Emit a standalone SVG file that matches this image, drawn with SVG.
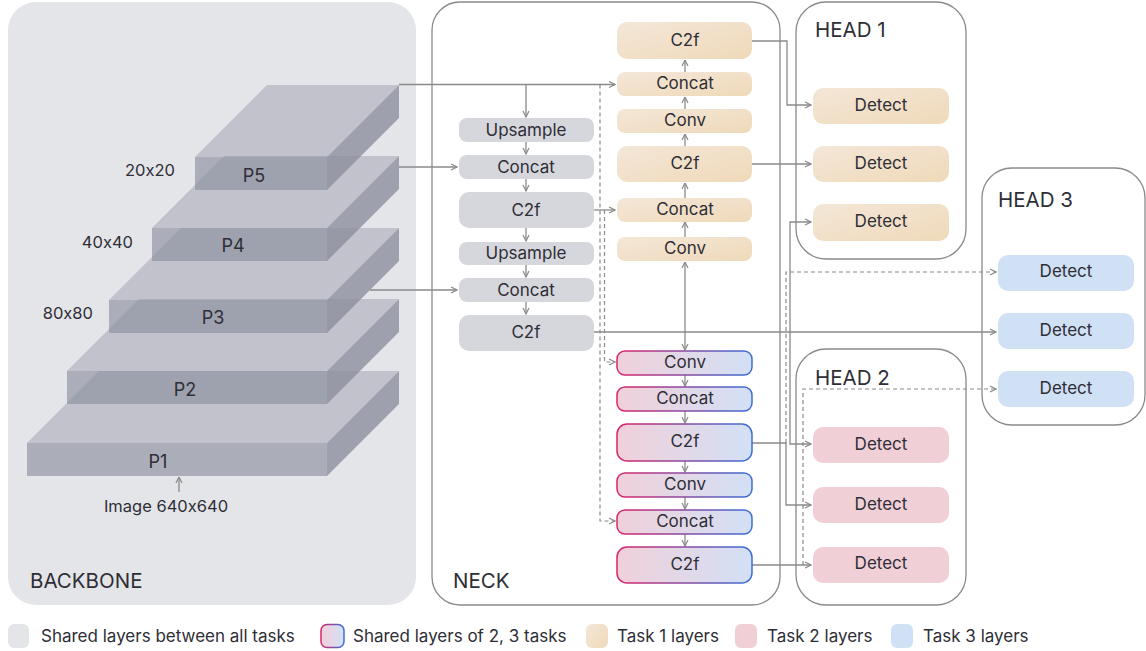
<svg xmlns="http://www.w3.org/2000/svg" width="1146" height="651" viewBox="0 0 1146 651">
<style>
text{font-family:Inter,"Noto Sans","Liberation Sans",sans-serif;fill:#2e2e36;font-feature-settings:"calt" 0;font-variant-ligatures:none}
.lbl{font-size:17px;text-anchor:middle;dominant-baseline:central}
.ttl{font-size:20.5px}
.leg{font-size:17px}
.panel{fill:#fff;stroke:#8a8a8a;stroke-width:1.3}
.gray{fill:#d6d7dc}
.t1{fill:url(#gT1)}
.t2{fill:#f0cfd7}
.t3{fill:#d0e0f5}
.sh{fill:url(#gSh);stroke:url(#gShS);stroke-width:1.5}
.c{fill:none;stroke:#8a8a8a;stroke-width:1.3}
.d{fill:none;stroke:#8a8a8a;stroke-width:1.2;stroke-dasharray:4 3}
.a{marker-end:url(#ah)}
.top{fill:#8c8f9e;fill-opacity:.4}
.front{fill:#8c8f9e;fill-opacity:.65}
.side{fill:#8c8f9e;fill-opacity:.8}
.pl{font-size:18px;text-anchor:middle;dominant-baseline:central}
.sz{font-size:16.5px;text-anchor:end;dominant-baseline:central}
</style>
<defs>
<linearGradient id="gT1" x1="0" y1="0" x2="1" y2="1"><stop offset="0" stop-color="#f4e7d8"/><stop offset="1" stop-color="#efd9b9"/></linearGradient>
<linearGradient id="gSh" x1="0" y1="0" x2="1" y2="0"><stop offset="0" stop-color="#f0d0da"/><stop offset="1" stop-color="#d3e0f5"/></linearGradient>
<linearGradient id="gShS" x1="0" y1="0" x2="1" y2="0"><stop offset="0" stop-color="#d8246c"/><stop offset="1" stop-color="#3a6fd8"/></linearGradient>
<marker id="ah" viewBox="0 0 8 8" refX="7.5" refY="4" markerWidth="8" markerHeight="8" markerUnits="userSpaceOnUse" orient="auto"><path d="M1.5,1 L7.5,4 L1.5,7" fill="none" stroke="#8a8a8a" stroke-width="1.2"/></marker>
</defs>

<g id="backbone">
<rect x="8" y="2" width="408" height="603" rx="28" fill="#e4e5e9"/>
<g id="P1"><polygon class="top" points="27,443 327,443 399,371 99,371"/><rect class="front" x="27" y="443" width="300" height="33"/><polygon class="side" points="327,443 399,371 399,404 327,476"/><text class="pl" x="158" y="461">P1</text></g>
<g id="P2"><polygon class="top" points="67,371 327,371 399,299 139,299"/><rect class="front" x="67" y="371" width="260" height="33"/><polygon class="side" points="327,371 399,299 399,332 327,404"/><text class="pl" x="185" y="389">P2</text></g>
<g id="P3"><polygon class="top" points="109,300 327,300 399,228 181,228"/><rect class="front" x="109" y="300" width="218" height="33"/><polygon class="side" points="327,300 399,228 399,261 327,333"/><text class="pl" x="213" y="317">P3</text></g>
<g id="P4"><polygon class="top" points="152,228 327,228 399,156 224,156"/><rect class="front" x="152" y="228" width="175" height="33"/><polygon class="side" points="327,228 399,156 399,189 327,261"/><text class="pl" x="233" y="245">P4</text></g>
<g id="P5"><polygon class="top" points="195,157 327,157 399,85 267,85"/><rect class="front" x="195" y="157" width="132" height="33"/><polygon class="side" points="327,157 399,85 399,118 327,190"/><text class="pl" x="254" y="175">P5</text></g>
<text class="sz" x="175" y="170">20x20</text>
<text class="sz" x="133" y="242">40x40</text>
<text class="sz" x="93" y="313">80x80</text>
<text class="lbl" x="166" y="506" style="font-size:16.5px">Image 640x640</text>
<path class="c a" d="M179,492 V477"/>
<text class="ttl" x="30" y="588">BACKBONE</text>
</g>

<g id="neck-panel"><rect class="panel" x="432" y="2" width="348" height="603" rx="28"/><text class="ttl" x="453" y="588">NECK</text></g>
<g id="head1-panel"><rect class="panel" x="796" y="2" width="170" height="257" rx="30"/><text class="ttl" x="815" y="37">HEAD 1</text></g>
<g id="head2-panel"><rect class="panel" x="796" y="349" width="170" height="256" rx="30"/><text class="ttl" x="815" y="385">HEAD 2</text></g>
<g id="head3-panel"><rect class="panel" x="982" y="168" width="163" height="257" rx="30"/><text class="ttl" x="998" y="207">HEAD 3</text></g>

<g id="connectors">
<path class="c a" d="M399,84.5 H615"/>
<path class="c a" d="M526,84.5 V117"/>
<path class="c a" d="M399,167 H457"/>
<path class="c a" d="M370,290 H457"/>
<path class="c a" d="M526,142 V154"/>
<path class="c a" d="M526,179 V191"/>
<path class="c a" d="M526,228 V241"/>
<path class="c a" d="M526,265 V277"/>
<path class="c a" d="M526,302 V314"/>
<path class="c a" d="M594,210 H615"/>
<path class="d a" d="M600,84.5 V521 H615"/>
<path class="d a" d="M604.5,210 V362 H615"/>
<path class="c a" d="M685,72 V60"/>
<path class="c a" d="M685,109 V97"/>
<path class="c a" d="M685,146 V134"/>
<path class="c a" d="M685,198 V183"/>
<path class="c a" d="M685,237 V222"/>
<path class="c a" d="M594,332 H996"/>
<path class="c a" d="M685,332 V262"/>
<path class="c a" d="M685,332 V350"/>
<path class="c a" d="M685,375 V386"/>
<path class="c a" d="M685,411 V423"/>
<path class="c a" d="M685,461 V472"/>
<path class="c a" d="M685,497 V509"/>
<path class="c a" d="M685,534 V546"/>
<path class="c a" d="M752,41 H787 V105 H811"/>
<path class="c a" d="M752,164 H811"/>
<path class="c a" d="M790,332 V222 H811"/>
<path class="c a" d="M790,332 V444 H811"/>
<path class="c a" d="M752,443 H786 V505 H811"/>
<path class="c a" d="M752,565 H811"/>
<path class="d a" d="M786,443 V272 H996"/>
<path class="d a" d="M803,565 V389 H996"/>
</g>

<g id="n-upsample1"><rect class="gray" x="459" y="118" width="135" height="24" rx="8"/><text class="lbl" x="526" y="130">Upsample</text></g>
<g id="n-concat1"><rect class="gray" x="459" y="155" width="135" height="24" rx="8"/><text class="lbl" x="526" y="167">Concat</text></g>
<g id="n-c2f1"><rect class="gray" x="459" y="192" width="135" height="36" rx="10"/><text class="lbl" x="526" y="210">C2f</text></g>
<g id="n-upsample2"><rect class="gray" x="459" y="242" width="135" height="23" rx="8"/><text class="lbl" x="526" y="253">Upsample</text></g>
<g id="n-concat2"><rect class="gray" x="459" y="278" width="135" height="24" rx="8"/><text class="lbl" x="526" y="290">Concat</text></g>
<g id="n-c2f2"><rect class="gray" x="459" y="315" width="135" height="36" rx="10"/><text class="lbl" x="526" y="332">C2f</text></g>

<g id="t1-c2f-top"><rect class="t1" x="617" y="22" width="135" height="37" rx="10"/><text class="lbl" x="685" y="40">C2f</text></g>
<g id="t1-concat-top"><rect class="t1" x="617" y="72" width="135" height="24" rx="8"/><text class="lbl" x="685" y="83">Concat</text></g>
<g id="t1-conv-top"><rect class="t1" x="617" y="109" width="135" height="24" rx="8"/><text class="lbl" x="685" y="120">Conv</text></g>
<g id="t1-c2f-mid"><rect class="t1" x="617" y="146" width="135" height="36" rx="10"/><text class="lbl" x="685" y="163">C2f</text></g>
<g id="t1-concat-mid"><rect class="t1" x="617" y="198" width="135" height="24" rx="8"/><text class="lbl" x="685" y="209">Concat</text></g>
<g id="t1-conv-mid"><rect class="t1" x="617" y="237" width="135" height="24" rx="8"/><text class="lbl" x="685" y="248">Conv</text></g>

<g id="sh-conv1"><rect class="sh" x="617" y="351" width="135" height="24" rx="8"/><text class="lbl" x="685" y="362">Conv</text></g>
<g id="sh-concat1"><rect class="sh" x="617" y="387" width="135" height="24" rx="8"/><text class="lbl" x="685" y="398">Concat</text></g>
<g id="sh-c2f1"><rect class="sh" x="617" y="424" width="135" height="37" rx="10"/><text class="lbl" x="685" y="441">C2f</text></g>
<g id="sh-conv2"><rect class="sh" x="617" y="473" width="135" height="24" rx="8"/><text class="lbl" x="685" y="484">Conv</text></g>
<g id="sh-concat2"><rect class="sh" x="617" y="510" width="135" height="24" rx="8"/><text class="lbl" x="685" y="521">Concat</text></g>
<g id="sh-c2f2"><rect class="sh" x="617" y="547" width="135" height="36" rx="10"/><text class="lbl" x="685" y="564">C2f</text></g>

<g id="h1-detect1"><rect class="t1" x="813" y="88" width="136" height="36" rx="10"/><text class="lbl" x="881" y="105">Detect</text></g>
<g id="h1-detect2"><rect class="t1" x="813" y="146" width="136" height="36" rx="10"/><text class="lbl" x="881" y="163">Detect</text></g>
<g id="h1-detect3"><rect class="t1" x="813" y="204" width="136" height="37" rx="10"/><text class="lbl" x="881" y="221">Detect</text></g>
<g id="h2-detect1"><rect class="t2" x="813" y="427" width="136" height="36" rx="10"/><text class="lbl" x="881" y="444">Detect</text></g>
<g id="h2-detect2"><rect class="t2" x="813" y="487" width="136" height="36" rx="10"/><text class="lbl" x="881" y="504">Detect</text></g>
<g id="h2-detect3"><rect class="t2" x="813" y="547" width="136" height="36" rx="10"/><text class="lbl" x="881" y="563">Detect</text></g>
<g id="h3-detect1"><rect class="t3" x="998" y="255" width="136" height="36" rx="10"/><text class="lbl" x="1066" y="271">Detect</text></g>
<g id="h3-detect2"><rect class="t3" x="998" y="313" width="136" height="36" rx="10"/><text class="lbl" x="1066" y="330">Detect</text></g>
<g id="h3-detect3"><rect class="t3" x="998" y="371" width="136" height="36" rx="10"/><text class="lbl" x="1066" y="388">Detect</text></g>

<g id="legend">
<rect x="8" y="624" width="21" height="24" rx="6" fill="#e4e5e9"/>
<text class="leg" x="41" y="642">Shared layers between all tasks</text>
<rect x="321" y="624.5" width="23" height="23" rx="6" fill="url(#gSh)" stroke="url(#gShS)" stroke-width="1.5"/>
<text class="leg" x="353" y="642">Shared layers of 2, 3 tasks</text>
<rect x="586" y="624" width="22" height="24" rx="6" fill="url(#gT1)"/>
<text class="leg" x="617" y="642">Task 1 layers</text>
<rect x="735" y="624" width="22" height="24" rx="6" fill="#f0cfd7"/>
<text class="leg" x="767" y="642">Task 2 layers</text>
<rect x="891" y="624" width="22" height="24" rx="6" fill="#d0e0f5"/>
<text class="leg" x="923" y="642">Task 3 layers</text>
</g>
</svg>
